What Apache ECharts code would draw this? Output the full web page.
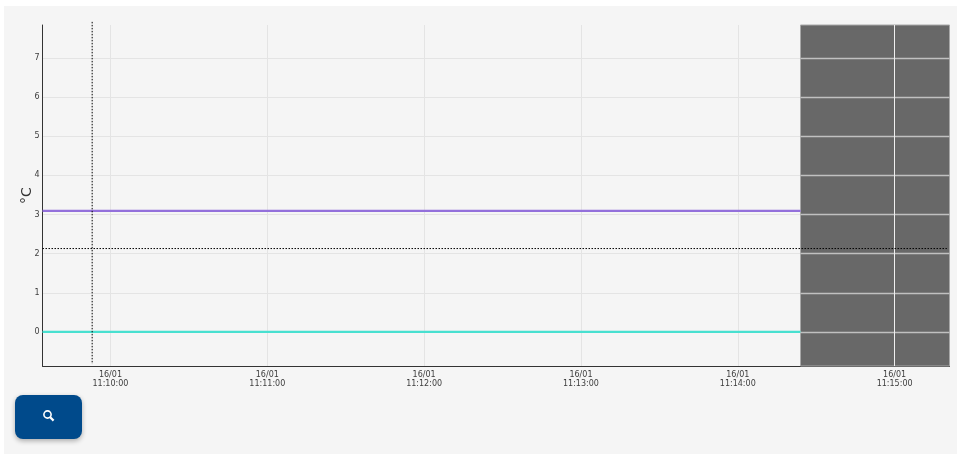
<!DOCTYPE html>
<html>
<head>
<meta charset="utf-8">
<title>Temperature</title>
<script src="https://cdn.jsdelivr.net/npm/echarts@6/dist/echarts.min.js"></script>
<style>
    html, body { margin: 0; padding: 0; background: #ffffff; }
    #main { width: 957px; height: 454px; }
</style>
</head>
<body>
<div id="main"></div>
<script>
const timeMin = "2024-01-16 11:09:34";
const timeMax = "2024-01-16 11:15:21";
const shadeStart = "2024-01-16 11:14:24";
const lineTimes = [timeMin, shadeStart];
const purpleValues = [3.09, 3.09];
const tealValues = [0, 0];
const yTicks = [0, 1, 2, 3, 4, 5, 6, 7];
const shadeVerticals = ["2024-01-16 11:15:00"];
const crossTimes = ["2024-01-16 11:09:53", "2024-01-16 11:09:53"];
const crossTimeValues = [7.92, -0.82];
const crossValueTimes = [timeMin, "2024-01-16 11:15:20"];
const crossValues = [2.13, 2.13];
const yMin = -0.87;
const yMax = 7.84;

function pairUp(times, values) {
    return times.map((t, i) => [t, values[i]]);
}

function pad(n) {
    return String(n).padStart(2, "0");
}

function timeLabel(value) {
    let d = new Date(value);
    return pad(d.getDate()) + "/" + pad(d.getMonth() + 1) + "\n" + pad(d.getHours()) + ":" + pad(d.getMinutes()) + ":" + pad(d.getSeconds());
}

// gridlines stay visible on top of the dark block
let shadeLines = [];
for (let i = 0; i < yTicks.length; i = i + 1) {
    shadeLines.push([{ coord: [shadeStart, yTicks[i]] }, { coord: [timeMax, yTicks[i]] }]);
}
let shadeVerticalLines = shadeVerticals.map(t => [{ coord: [t, yMin] }, { coord: [t, yMax] }]);

let myChart = echarts.init(document.getElementById("main"), null, { renderer: "canvas" });

let option = {
    animation: false,
    backgroundColor: "#ffffff",
    grid: { left: 42.5, right: 7.5, top: 25, bottom: 88, outerBoundsMode: "none" },
    xAxis: {
        type: "time",
        min: timeMin,
        max: timeMax,
        minInterval: 60000,
        maxInterval: 60000,
        axisLine: { show: true, onZero: false, lineStyle: { color: "#333333", width: 1 } },
        axisTick: { show: false },
        axisLabel: {
            formatter: timeLabel,
            fontFamily: "DejaVu Sans",
            fontSize: 8,
            lineHeight: 9.5,
            color: "#3c3c3c",
            margin: 4,
            showMinLabel: false,
            showMaxLabel: false,
            hideOverlap: false
        },
        splitLine: { show: true, lineStyle: { color: "#e4e4e4", width: 1 } }
    },
    yAxis: {
        type: "value",
        min: yMin,
        max: yMax,
        name: "°C",
        nameLocation: "center",
        nameGap: 8,
        nameMoveOverlap: false,
        nameRotate: 90,
        nameTextStyle: { fontFamily: "DejaVu Sans", fontSize: 14, color: "#333333" },
        axisLine: { show: true, lineStyle: { color: "#333333", width: 1 } },
        axisTick: { show: false, customValues: yTicks },
        axisLabel: {
            customValues: yTicks,
            fontFamily: "DejaVu Sans",
            fontSize: 8,
            color: "#3c3c3c",
            margin: 3
        },
        splitLine: { show: true, lineStyle: { color: "#e4e4e4", width: 1 } }
    },
    graphic: [
        { type: "rect", z: -10, shape: { x: 4, y: 6, width: 953, height: 448 }, style: { fill: "#f5f5f5" } },
        {
            type: "rect",
            z: 10,
            shape: { x: 15, y: 395, width: 67, height: 44, r: 8 },
            style: { fill: "#004a8b", shadowBlur: 5, shadowOffsetY: 2, shadowColor: "rgba(0,0,0,0.3)" }
        },
        { type: "circle", z: 11, shape: { cx: 47.5, cy: 414.5, r: 3.6 }, style: { fill: "none", stroke: "#ffffff", lineWidth: 1.6 } },
        { type: "line", z: 11, shape: { x1: 50.2, y1: 417.2, x2: 53.6, y2: 420.6 }, style: { stroke: "#ffffff", lineWidth: 2.2 } }
    ],
    series: [
        {
            name: "shade",
            type: "line",
            data: [],
            z: 1,
            markArea: {
                silent: true,
                itemStyle: { color: "#686868", borderColor: "#a8a8a8", borderWidth: 1 },
                data: [[{ coord: [shadeStart, yMin] }, { coord: [timeMax, yMax] }]]
            },
            markLine: {
                silent: true,
                symbol: "none",
                label: { show: false },
                lineStyle: { color: "#c0c0c0", width: 1.3, type: "solid" },
                data: shadeLines
            }
        },
        {
            name: "shadeVertical",
            type: "line",
            data: [],
            z: 2,
            markLine: {
                silent: true,
                symbol: "none",
                label: { show: false },
                lineStyle: { color: "#f0f0f0", width: 1, type: "solid" },
                data: shadeVerticalLines
            }
        },
        {
            name: "purple",
            type: "line",
            data: pairUp(lineTimes, purpleValues),
            showSymbol: false,
            z: 3,
            lineStyle: { color: "#9370db", width: 2.2 }
        },
        {
            name: "teal",
            type: "line",
            data: pairUp(lineTimes, tealValues),
            showSymbol: false,
            z: 3,
            lineStyle: { color: "#48e0d0", width: 2.2 }
        },
        {
            name: "crossVertical",
            type: "line",
            data: pairUp(crossTimes, crossTimeValues),
            showSymbol: false,
            clip: false,
            z: 5,
            lineStyle: { color: "#000000", width: 1, type: [1.5, 1.5] }
        },
        {
            name: "crossHorizontal",
            type: "line",
            data: pairUp(crossValueTimes, crossValues),
            showSymbol: false,
            clip: false,
            z: 5,
            lineStyle: { color: "#000000", width: 1, type: [1.5, 1.5] }
        }
    ]
};

myChart.setOption(option);
</script>
</body>
</html>
